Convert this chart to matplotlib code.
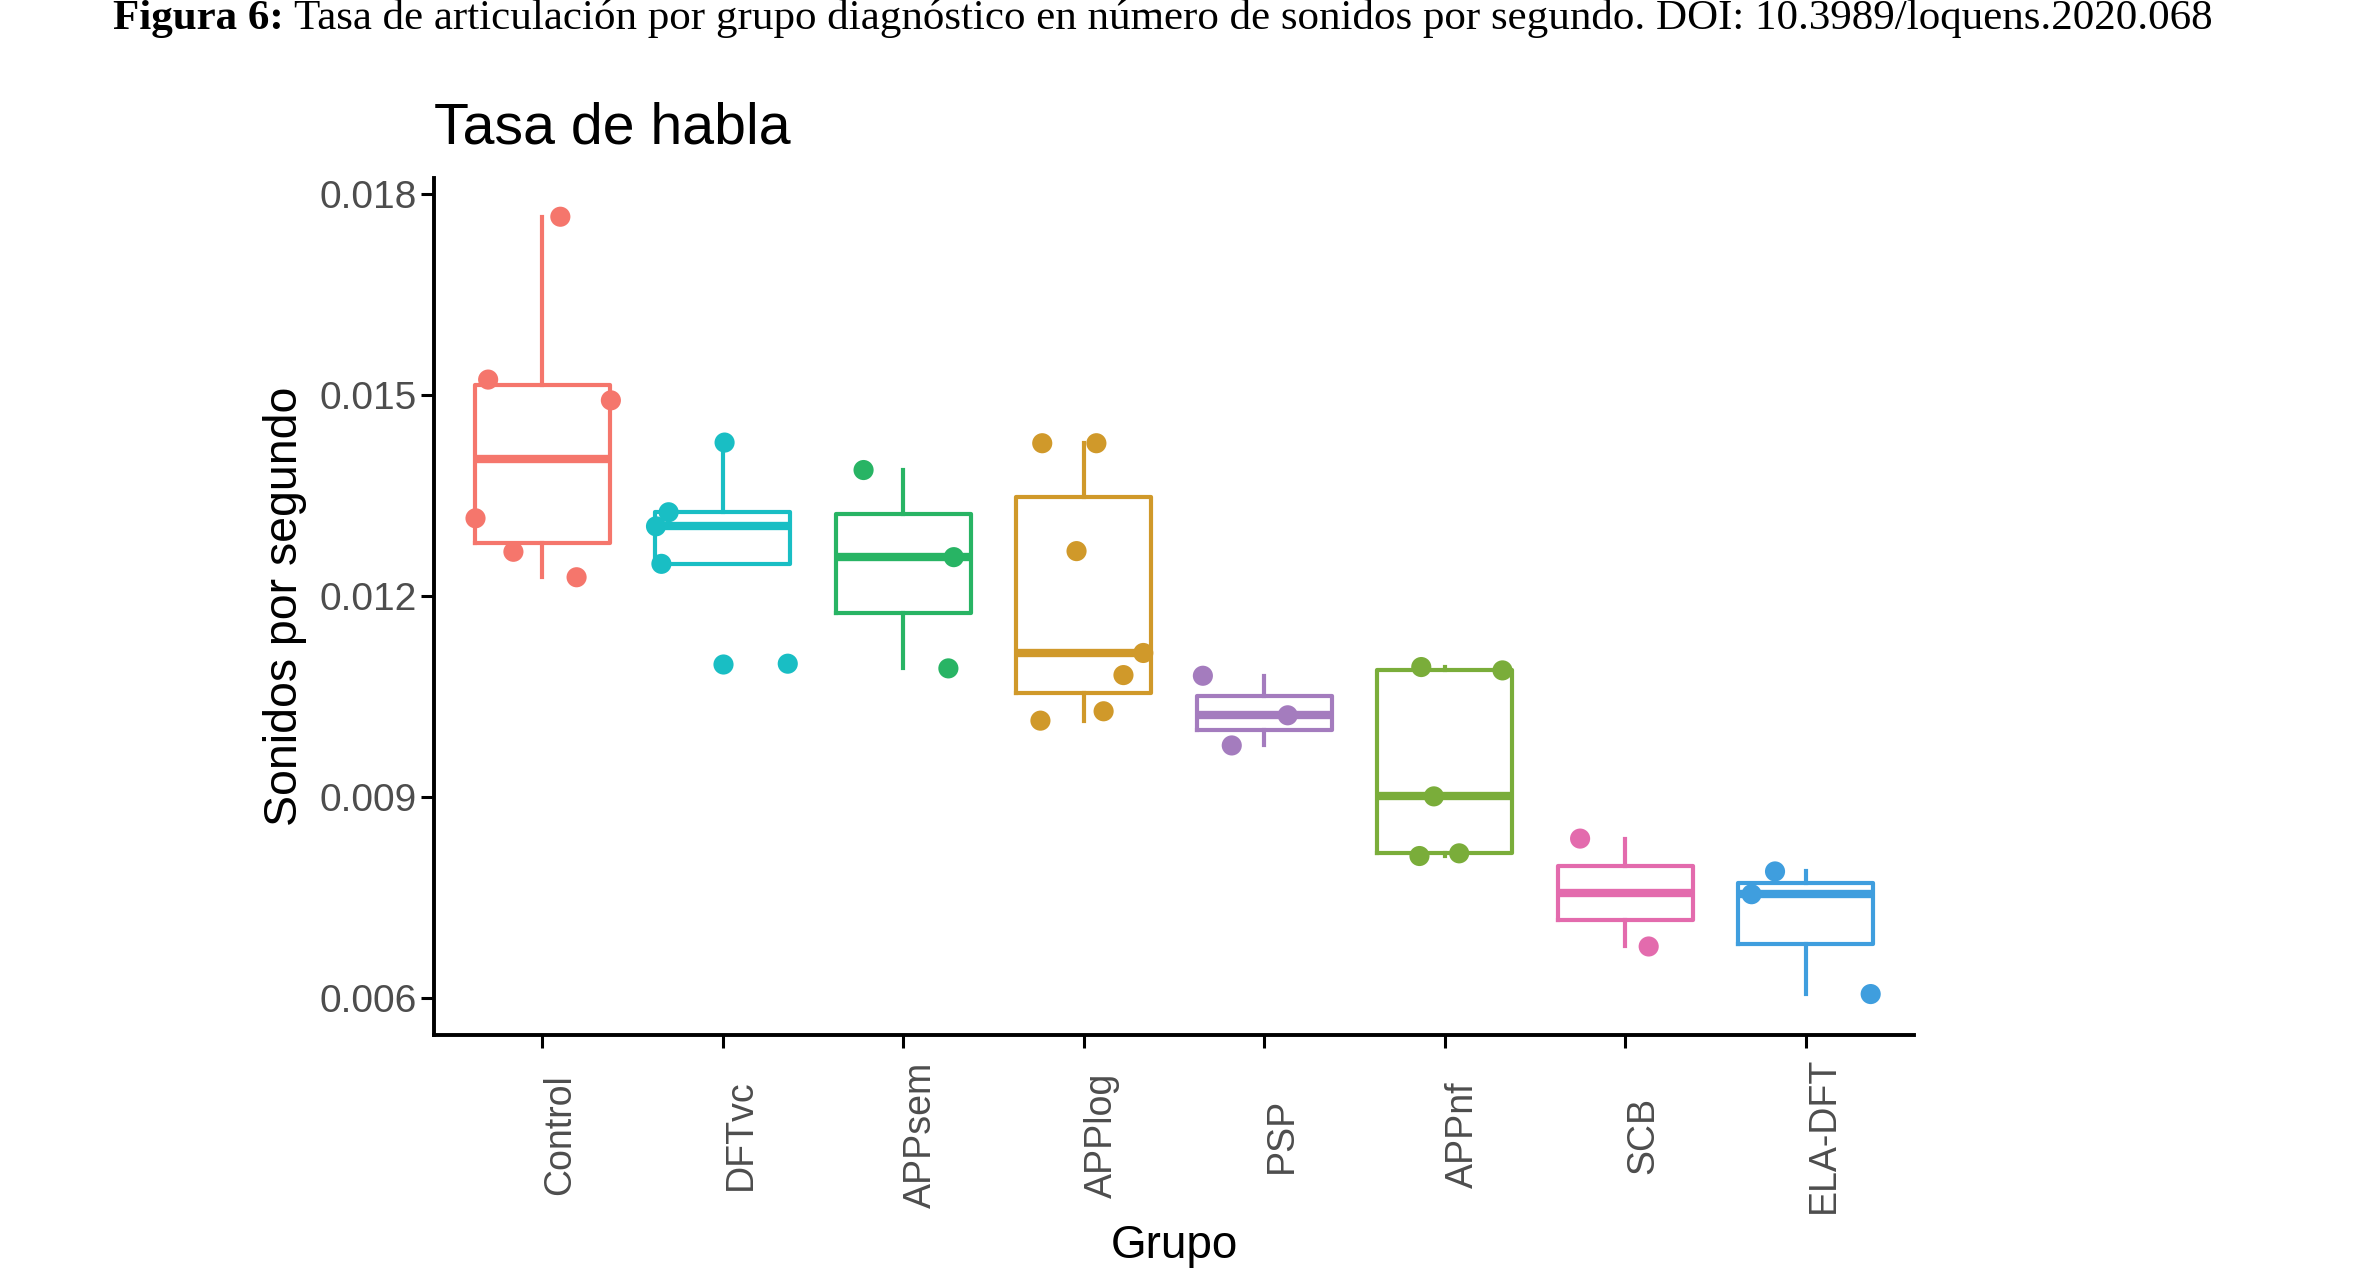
import matplotlib
matplotlib.use("Agg")
import matplotlib.pyplot as plt
import numpy as np

W, H = 2358, 1269

groups = ["Control", "DFTvc", "APPsem", "APPlog", "PSP", "APPnf", "SCB", "ELA-DFT"]
colors = ["#F5766C", "#19BEC4", "#28B464", "#D0992A", "#A47CBE", "#7AAD3A", "#E36BAD", "#3F9EDE"]

# sonidos por segundo, one value per speaker
control = [0.01766, 0.01523, 0.01492, 0.01316, 0.01266, 0.01228]
dftvc = [0.01429, 0.01325, 0.01304, 0.01248, 0.01099]
appsem = [0.01388, 0.01258, 0.01092]
applog = [0.01428, 0.01428, 0.01267, 0.01115, 0.01082, 0.01028, 0.01014]
psp = [0.01081, 0.01022, 0.00977]
appnf = [0.01094, 0.01089, 0.00901, 0.00812, 0.00816]
scb = [0.00838, 0.00677]
ela_dft = [0.00789, 0.00755, 0.00606]

# horizontal jitter of each dot, as seen in the figure (category units)
control_jit = [0.10, -0.30, 0.38, -0.37, -0.16, 0.19]
dftvc_jit = [0.01, -0.30, -0.37, -0.34, 0.36]
appsem_jit = [-0.22, 0.28, 0.25]
applog_jit = [-0.23, 0.07, -0.04, 0.33, 0.22, 0.11, -0.24]
psp_jit = [-0.34, 0.13, -0.18]
appnf_jit = [-0.13, 0.32, -0.06, -0.14, 0.08]
scb_jit = [-0.25, 0.13]
ela_dft_jit = [-0.17, -0.30, 0.36]

yticks = [0.006, 0.009, 0.012, 0.015, 0.018]

values = [control, dftvc, appsem, applog, psp, appnf, scb, ela_dft]
jitters = [control_jit, dftvc_jit, appsem_jit, applog_jit, psp_jit, appnf_jit, scb_jit, ela_dft_jit]

plt.rcParams["font.family"] = ["Liberation Sans", "DejaVu Sans"]

fig = plt.figure(figsize=(W / 100, H / 100), dpi=100)
ax = fig.add_axes([434 / W, 1 - 1035 / H, (1914 - 434) / W, (1035 - 178) / H])

pos = np.arange(1, len(groups) + 1)
for p, vals, jit, col in zip(pos, values, jitters, colors):
    ax.boxplot([vals], positions=[p], widths=0.75, whis=1.5, showcaps=False,
               boxprops=dict(color=col, lw=3.0),
               whiskerprops=dict(color=col, lw=3.0),
               medianprops=dict(color=col, lw=6.0, solid_capstyle="butt"),
               flierprops=dict(marker="o", markerfacecolor=col, markeredgecolor="none",
                               markersize=14.5))
    ax.scatter(p + np.asarray(jit), vals, s=210, color=col, edgecolors="none", zorder=3)

ax.set_xlim(0.4, len(groups) + 0.6)
ax.set_ylim(0.005449, 0.018238)
ax.set_yticks(yticks)
ax.set_yticklabels([f"{t:.3f}" for t in yticks])
ax.set_xticks(pos)
ax.set_xticklabels([])

for side in ("top", "right"):
    ax.spines[side].set_visible(False)
for side in ("left", "bottom"):
    ax.spines[side].set_linewidth(2.8)
    ax.spines[side].set_color("black")
ax.tick_params(axis="both", length=9.4, width=2.2, color="black")
ax.tick_params(axis="y", labelsize=28, labelcolor="#4D4D4D", pad=2.9)

for p, g in zip(pos, groups):
    ax.text(p, -100 / 857, g, rotation=90, ha="left", va="center", fontsize=27,
            color="#4D4D4D", transform=ax.get_xaxis_transform())

fig.text(434 / W, 1 - 143 / H, "Tasa de habla", fontsize=41.2, ha="left", va="baseline")
fig.text(285 / W, 1 - 606 / H, "Sonidos por segundo", rotation=90, fontsize=33.5,
         ha="center", va="center")
fig.text((434 + 1914) / 2 / W, 1 - 1258 / H, "Grupo", fontsize=33, ha="center", va="baseline")

# caption: bold label followed by regular text
serif = ["Liberation Serif", "DejaVu Serif"]
fig.canvas.draw()
r = fig.canvas.get_renderer()
cap_y = 1 - 29 / H
bold = fig.text(113 / W, cap_y, "Figura 6:", family=serif, fontweight="bold", fontsize=31,
                va="baseline", ha="left")
bw = bold.get_window_extent(r).width
fig.text((113 + bw) / W, cap_y,
         " Tasa de articulación por grupo diagnóstico en número de sonidos por segundo. "
         "DOI: 10.3989/loquens.2020.068",
         family=serif, fontsize=31, va="baseline", ha="left")

fig.savefig("out.png", dpi=100)
